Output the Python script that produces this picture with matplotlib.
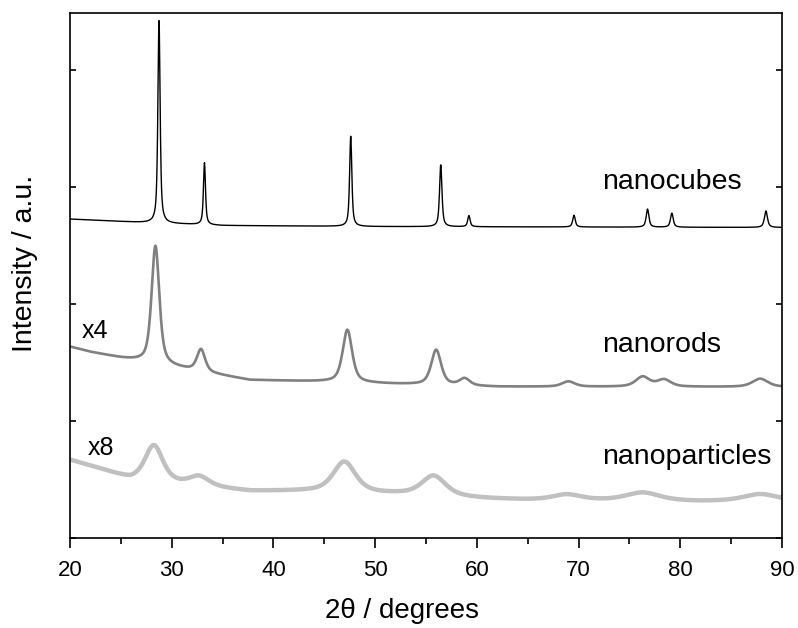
import numpy as np
import matplotlib
matplotlib.use("Agg")
import matplotlib.pyplot as plt
from matplotlib.ticker import MultipleLocator, NullFormatter

plt.rcParams['font.family'] = ['Liberation Sans', 'DejaVu Sans']

# ---- data (2theta in degrees, intensity in plot units) ----
two_theta = np.arange(20.0, 90.0001, 0.02)

# nanocubes
cubes_peak_pos = [28.75, 33.22, 47.60, 56.45, 59.22, 69.55, 76.78, 79.17, 88.42]
cubes_peak_h = [1.74, 0.53, 0.77, 0.53, 0.095, 0.10, 0.155, 0.12, 0.14]
cubes_peak_w = [0.26, 0.24, 0.26, 0.28, 0.28, 0.30, 0.32, 0.32, 0.36]
cubes_base_x = [20, 27, 35, 50, 90]
cubes_base_y = [2.726, 2.697, 2.671, 2.662, 2.654]

# nanorods (x4)
rods_peak_pos = [28.40, 32.88, 47.27, 56.00, 58.80, 69.00, 76.30, 78.40, 87.85]
rods_peak_h = [1.01, 0.19, 0.45, 0.30, 0.06, 0.045, 0.085, 0.06, 0.07]
rods_peak_w = [0.90, 0.95, 1.10, 1.15, 1.20, 1.50, 1.60, 1.60, 1.80]
rods_base_x = [20, 22, 25, 26.5, 31.5, 37.7, 45, 52, 62, 90]
rods_base_y = [1.635, 1.590, 1.538, 1.515, 1.440, 1.350, 1.336, 1.316, 1.293, 1.291]

# nanoparticles (x8)
parts_peak_pos = [28.25, 32.70, 46.97, 55.75, 68.80, 76.30, 87.85]
parts_peak_h = [0.31, 0.08, 0.26, 0.17, 0.05, 0.07, 0.06]
parts_peak_w = [2.1, 2.3, 2.6, 2.8, 3.5, 4.0, 4.0]
parts_base_x = [20, 22, 25, 26, 37.7, 43.6, 52.4, 61.3, 67, 72, 82, 90]
parts_base_y = [0.667, 0.615, 0.530, 0.500, 0.400, 0.400, 0.375, 0.335, 0.320, 0.320, 0.312, 0.315]

labels = ["nanocubes", "nanorods", "nanoparticles"]
scale_labels = ["x4", "x8"]
colors = ["#000000", "#808080", "#c0c0c0"]
xticks = [20, 30, 40, 50, 60, 70, 80, 90]


def pattern(x, pos, h, w, bx, by, eta):
    y = np.interp(x, bx, by)
    for p, hh, ww in zip(pos, h, w):
        d = (x - p) / (ww / 2.0)
        lor = 1.0 / (1.0 + d ** 2)
        gau = np.exp(-np.log(2) * d ** 2)
        y = y + hh * (eta * lor + (1 - eta) * gau)
    return y


y_cubes = pattern(two_theta, cubes_peak_pos, cubes_peak_h, cubes_peak_w, cubes_base_x, cubes_base_y, 0.7)
y_rods = pattern(two_theta, rods_peak_pos, rods_peak_h, rods_peak_w, rods_base_x, rods_base_y, 0.6)
y_parts = pattern(two_theta, parts_peak_pos, parts_peak_h, parts_peak_w, parts_base_x, parts_base_y, 0.6)

fig = plt.figure(figsize=(7.98, 6.28), dpi=100)
ax = fig.add_axes([70 / 798, (628 - 538) / 628, (782 - 70) / 798, (538 - 13) / 628])

ax.plot(two_theta, y_parts, color=colors[2], lw=3.2, solid_joinstyle='round')
ax.plot(two_theta, y_rods, color=colors[1], lw=1.9, solid_joinstyle='round')
ax.plot(two_theta, y_cubes, color=colors[0], lw=1.0)

ax.set_xlim(20, 90)
ax.set_ylim(0, 525 / 117)
ax.set_xticks(xticks)
ax.xaxis.set_minor_locator(MultipleLocator(5))
ax.set_yticks([0, 1, 2, 3, 4])
ax.yaxis.set_major_formatter(NullFormatter())
ax.tick_params(axis='x', which='major', direction='out', length=7.5, width=1.2, labelsize=16, pad=8)
ax.tick_params(axis='x', which='minor', direction='out', length=4, width=1.2)
ax.tick_params(axis='y', which='major', direction='in', length=4, width=1.2, left=True, right=True)
for s in ax.spines.values():
    s.set_linewidth(1.2)

ax.set_xlabel("2θ / degrees", fontsize=20)
ax.xaxis.set_label_coords((402 - 70) / 712, -(611 - 538) / 525, transform=ax.transAxes)
ax.xaxis.label.set_va('center')
ax.set_ylabel("Intensity / a.u.", fontsize=20.5)
ax.yaxis.set_label_coords(-(70 - 25) / 712, (538 - 263) / 525, transform=ax.transAxes)
ax.yaxis.label.set_va('center')

ax.text(72.3, 3.04, labels[0], fontsize=20.5, va='center', ha='left')
ax.text(72.3, 1.65, labels[1], fontsize=20.5, va='center', ha='left')
ax.text(72.3, 0.695, labels[2], fontsize=20.5, va='center', ha='left')
ax.text(21.2, 1.765, scale_labels[0], fontsize=18, va='center', ha='left')
ax.text(21.7, 0.77, scale_labels[1], fontsize=18, va='center', ha='left')

fig.savefig("out.png", dpi=100)
